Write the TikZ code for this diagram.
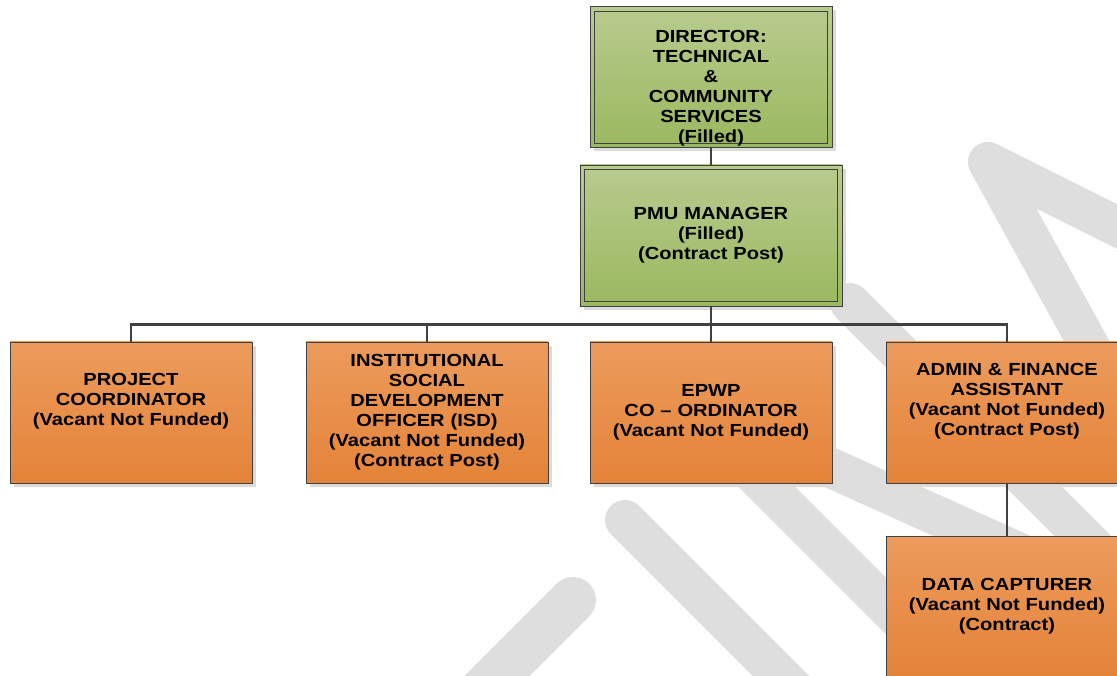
\documentclass[tikz,border=0pt]{standalone}
\usepackage{fontspec}
\newfontfamily\orgfont{Liberation Sans}[FakeStretch=1.15]
\usetikzlibrary{shadows}
\definecolor{wmgray}{RGB}{222,222,222}
\definecolor{lineclr}{RGB}{64,64,64}
\definecolor{greentop}{RGB}{184,203,142}
\definecolor{greenbot}{RGB}{155,184,95}
\definecolor{orangetop}{RGB}{236,155,92}
\definecolor{orangebot}{RGB}{228,131,56}
\begin{document}
\begin{tikzpicture}[x=1pt,y=-1pt,
		post/.style={draw=lineclr,line width=0.9pt,minimum width=242pt,minimum height=141pt,inner sep=0pt,text width=236pt,align=center,font=\orgfont\bfseries\fontsize{17.5}{20}\selectfont,drop shadow={shadow xshift=4pt,shadow yshift=-4pt,fill=black!14,opacity=1}},
		filled/.style={post,top color=greentop,bottom color=greenbot,path picture={\draw[lineclr,line width=0.8pt] ([shift={(4.5pt,-4.5pt)}]path picture bounding box.north west) rectangle ([shift={(-4.5pt,4.5pt)}]path picture bounding box.south east);}},
		vacant/.style={post,top color=orangetop,bottom color=orangebot},
		link/.style={draw=lineclr,line width=2.2pt},
		wm/.style={draw=wmgray,line width=40pt,line cap=round,line join=round}]
		\useasboundingbox (0,0) rectangle (1117,676);
		\clip (0,0) rectangle (1117,676);
		% watermark
		\draw[wm,line width=46pt] (480,693) -- (573,600);
		\draw[wm] (625,520) -- (800,695);
		\draw[wm] (965,685) -- (680,400) -- (1042,563);
		\draw[wm] (850,303) -- (1160,613);
		\draw[wm] (1160,248) -- (988,162) -- (1140,438);
		% posts
		\node[filled] (dir) at (711,77) {\strut\\DIRECTOR:\\TECHNICAL\\\&\\COMMUNITY\\SERVICES\\(Filled)};
		\node[filled,minimum width=262pt] (pmu) at (711,235.5) {PMU MANAGER\\(Filled)\\(Contract Post)};
		\node[vacant] (pc) at (131,412.5) {PROJECT\\COORDINATOR\\(Vacant Not Funded)\\\strut};
		\node[vacant] (isd) at (427,412.5) {INSTITUTIONAL\\SOCIAL\\DEVELOPMENT\\OFFICER (ISD)\\(Vacant Not Funded)\\(Contract Post)};
		\node[vacant] (epwp) at (711,412.5) {EPWP\\CO \textendash{} ORDINATOR\\(Vacant Not Funded)};
		\node[vacant] (admin) at (1007,412.5) {ADMIN \& FINANCE\\ASSISTANT\\(Vacant Not Funded)\\(Contract Post)\\\strut};
		\node[vacant] (dc) at (1007,606.5) {DATA CAPTURER\\(Vacant Not Funded)\\(Contract)};
		% lines
		\draw[link] (dir) -- (pmu);
		\foreach \c in {pc,isd,epwp,admin}
		\draw[link] (pmu.south) -- ++(0,18) -| (\c.north);
		\draw[link] (admin) -- (dc);
\end{tikzpicture}
\end{document}
